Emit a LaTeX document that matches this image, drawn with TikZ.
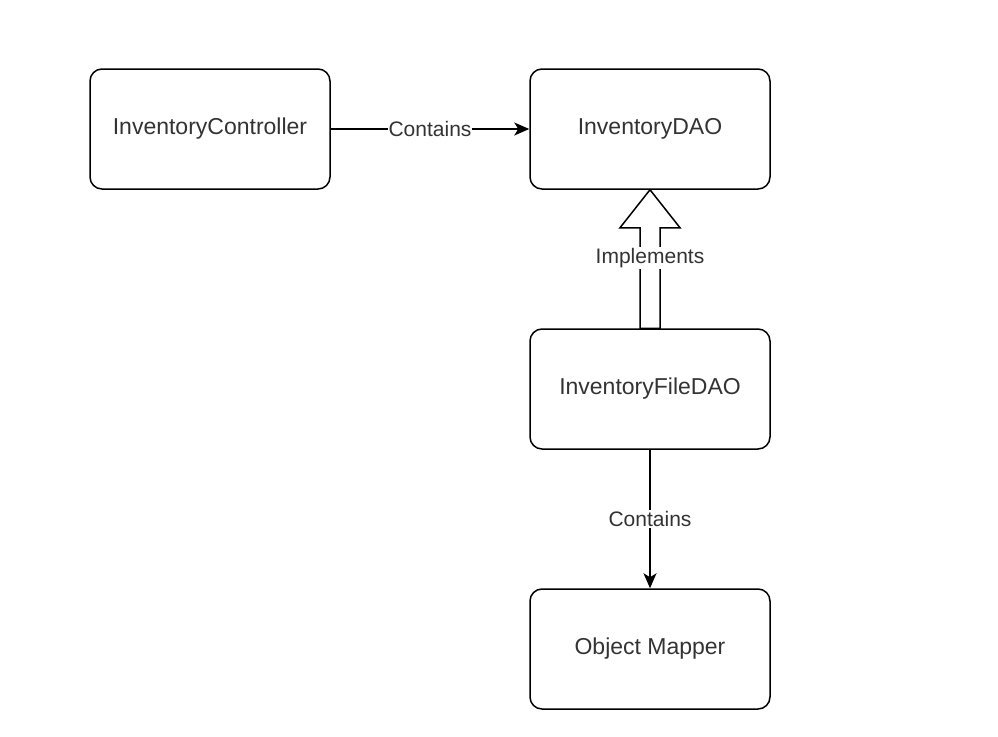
\documentclass[tikz,border=0pt]{standalone}
\usepackage{fontspec}
\setmainfont{Liberation Sans}
\usetikzlibrary{arrows.meta,calc}
\definecolor{txt}{HTML}{333333}
\tikzset{
  box/.style={draw=black, line width=1.5pt, rounded corners=12pt, minimum width=240pt, minimum height=120pt, inner sep=0pt, text=txt, font=\fontsize{23}{28}\selectfont},
  lbl/.style={fill=white, text=txt, inner sep=1pt, font=\fontsize{21}{26}\selectfont},
  conn/.style={line width=1.5pt, -{Stealth[length=15pt,width=13pt,inset=4pt]}}
}
\begin{document}
\begin{tikzpicture}[x=1pt,y=-1pt]
\useasboundingbox[fill=white] (0,0) rectangle (998,736);
\node[box] (ctrl) at (210,129) {InventoryController};
\node[box] (dao) at (650,129) {InventoryDAO};
\node[box] (file) at (650,389) {InventoryFileDAO};
\node[box] (mapper) at (650,649) {Object Mapper};
% Contains ctrl -> dao
\draw[conn] (ctrl.east) -- node[lbl] {Contains} (dao.west);
% Implements block arrow
\draw[line width=1.5pt, line join=miter, fill=white]
  ($(file.north)+(-10,0)$) -- ($(dao.south)+(-10,38)$) -- ($(dao.south)+(-30,38)$)
  -- (dao.south) -- ($(dao.south)+(30,38)$) -- ($(dao.south)+(10,38)$)
  -- ($(file.north)+(10,0)$) -- cycle;
\node[lbl] (impl) at (650,258) {Implements};
% Contains file -> mapper
\draw[conn] (file.south) -- node[lbl] {Contains} (mapper.north);
\end{tikzpicture}
\end{document}
